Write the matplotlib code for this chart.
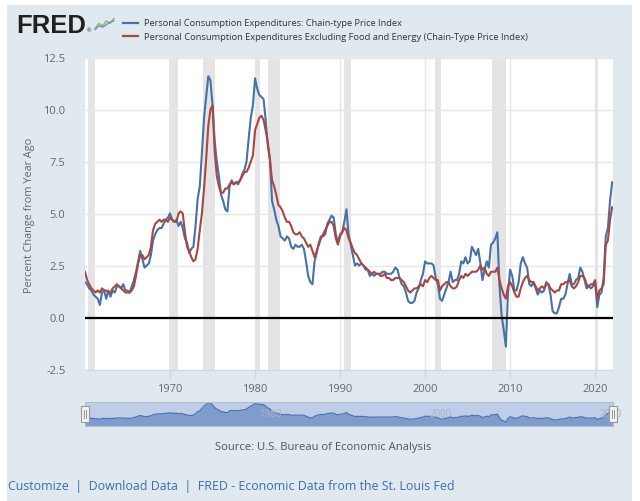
import numpy as np
import matplotlib
matplotlib.use("Agg")
import matplotlib.pyplot as plt
import matplotlib.patches as mpatches

plt.rcParams["font.family"] = ["Open Sans", "DejaVu Sans"]

# quarterly values, 1960 Q1 .. 2022 Q1 (percent change from year ago)
pce = [
    1.7, 1.6, 1.4, 1.3,  1.1, 1.0, 0.9, 0.6,  1.2, 1.3, 0.9, 1.3,  1.0, 1.3, 1.2, 1.5,
    1.5, 1.4, 1.6, 1.3,  1.3, 1.2, 1.5, 1.8,  2.2, 2.7, 3.2, 2.8,  2.4, 2.5, 2.6, 3.0,
    3.7, 4.0, 4.2, 4.3,  4.3, 4.5, 4.7, 4.8,  5.0, 4.7, 4.6, 4.7,  4.4, 4.6, 4.3, 3.8,
    3.6, 3.1, 3.3, 3.4,  4.4, 5.7, 6.3, 7.9,  9.6, 10.6, 11.6, 11.4,  10.2, 8.5, 7.5, 6.8,
    5.9, 5.6, 5.2, 5.1,  6.3, 6.6, 6.4, 6.5,  6.4, 6.6, 6.9, 7.1,  7.5, 8.6, 9.6, 10.2,
    11.5, 11.0, 10.7, 10.6,  10.5, 9.5, 8.3, 7.6,  5.6, 5.2, 4.7, 4.4,  3.9, 3.8, 3.7, 3.9,
    3.8, 3.4, 3.3, 3.5,  3.4, 3.4, 3.5, 3.3,  2.7, 2.0, 1.7, 1.6,  2.7, 3.1, 3.6, 3.9,
    3.9, 4.0, 4.5, 4.7,  4.9, 4.8, 4.0, 3.6,  4.0, 4.1, 4.6, 5.2,  4.0, 3.5, 3.0, 2.5,
    2.6, 2.5, 2.6, 2.5,  2.3, 2.3, 2.0, 2.1,  2.0, 2.1, 2.1, 2.1,  2.2, 2.2, 2.1, 2.1,
    2.1, 2.2, 2.4, 2.3,  1.9, 1.6, 1.5, 1.2,  0.8, 0.7, 0.7, 0.8,  1.2, 1.4, 1.8, 2.1,
    2.7, 2.6, 2.6, 2.6,  2.5, 1.9, 1.6, 0.9,  0.8, 1.1, 1.4, 1.7,  2.2, 1.7, 1.8, 1.8,
    2.1, 2.7, 2.6, 2.9,  2.6, 2.7, 3.4, 3.2,  3.0, 3.3, 2.6, 1.8,  2.3, 2.7, 2.4, 3.5,
    3.6, 3.8, 4.1, 1.5,  0.1, -0.6, -1.4, 1.2,  2.3, 2.0, 1.3, 1.3,  1.7, 2.6, 2.9, 2.6,
    2.4, 1.6, 1.5, 1.7,  1.4, 1.1, 1.3, 1.2,  1.3, 1.7, 1.6, 1.1,  0.3, 0.2, 0.2, 0.5,
    0.9, 0.9, 1.1, 1.6,  2.1, 1.6, 1.6, 1.8,  1.9, 2.4, 2.2, 1.8,  1.4, 1.5, 1.4, 1.5,
    1.7, 0.5, 1.1, 1.2,  1.9, 3.9, 4.3, 5.6,  6.5,
]
core = [
    2.2, 1.8, 1.6, 1.4,  1.3, 1.2, 1.3, 1.2,  1.4, 1.3, 1.3, 1.2,  1.2, 1.4, 1.5, 1.6,
    1.5, 1.4, 1.3, 1.2,  1.2, 1.2, 1.3, 1.5,  2.0, 2.6, 3.0, 3.0,  2.8, 2.9, 3.0, 3.4,
    4.2, 4.5, 4.6, 4.7,  4.6, 4.7, 4.7, 4.6,  4.8, 4.7, 4.6, 4.6,  5.0, 5.1, 5.0, 4.1,
    3.4, 3.2, 2.9, 2.7,  2.8, 3.3, 4.2, 5.0,  6.2, 7.6, 9.2, 10.0,  10.2, 8.0, 6.8, 6.3,
    6.0, 6.0, 6.2, 6.2,  6.4, 6.5, 6.4, 6.5,  6.5, 6.6, 6.8, 7.0,  7.0, 7.2, 7.5, 7.8,
    9.0, 9.3, 9.6, 9.7,  9.5, 9.0, 8.4, 7.6,  6.6, 6.3, 5.9, 5.4,  5.3, 5.1, 4.8, 4.6,
    4.6, 4.4, 4.1, 4.0,  4.0, 4.1, 3.9, 3.8,  3.6, 3.4, 3.5, 3.2,  2.9, 3.2, 3.5, 3.8,
    4.0, 4.2, 4.4, 4.6,  4.6, 4.4, 3.8, 3.5,  3.9, 4.1, 4.3, 4.2,  3.8, 3.6, 3.3, 3.1,
    3.0, 2.8, 2.6, 2.5,  2.4, 2.3, 2.2, 2.1,  2.2, 2.1, 2.1, 2.0,  2.0, 2.1, 1.9, 1.9,
    1.8, 1.8, 1.9, 1.9,  1.9, 1.8, 1.7, 1.5,  1.3, 1.2, 1.3, 1.4,  1.4, 1.5, 1.6, 1.5,
    1.8, 1.7, 1.9, 2.0,  1.9, 1.8, 1.8, 1.3,  1.5, 1.6, 1.7, 1.7,  1.5, 1.4, 1.4, 1.5,
    1.8, 2.0, 1.9, 2.1,  2.0, 2.1, 2.2, 2.2,  2.2, 2.3, 2.5, 2.3,  2.4, 2.1, 2.0, 2.2,
    2.2, 2.2, 2.4, 1.8,  1.4, 1.1, 0.9, 1.5,  1.7, 1.5, 1.2, 1.0,  1.0, 1.4, 1.7, 1.9,
    2.0, 1.8, 1.7, 1.7,  1.5, 1.3, 1.4, 1.5,  1.4, 1.6, 1.6, 1.4,  1.3, 1.2, 1.3, 1.3,
    1.6, 1.6, 1.7, 1.7,  1.8, 1.5, 1.4, 1.5,  1.7, 2.0, 2.0, 1.9,  1.6, 1.5, 1.6, 1.6,
    1.8, 0.9, 1.3, 1.4,  1.6, 3.5, 3.7, 4.7,  5.3,
]
recessions = [
    (1960.33, 1961.17), (1969.92, 1970.92), (1973.83, 1975.25), (1980.0, 1980.58),
    (1981.5, 1982.92), (1990.5, 1991.25), (2001.17, 2001.92), (2007.92, 2009.5),
    (2020.08, 2020.33),
]
x_ticks = [1970, 1980, 1990, 2000, 2010, 2020]
y_ticks = [-2.5, 0.0, 2.5, 5.0, 7.5, 10.0, 12.5]
nav_labels = [1980, 2000, 2020]

legend_labels = [
    "Personal Consumption Expenditures: Chain-type Price Index",
    "Personal Consumption Expenditures Excluding Food and Energy (Chain-Type Price Index)",
]
BLUE = "#4572a7"
RED = "#aa4643"
PANEL = "#e1e9f0"
GRID = "#e6e6e6"
W, H = 640, 502

years = 1960 + np.arange(len(pce)) / 4.0

fig = plt.figure(figsize=(W / 100, H / 100), dpi=100, facecolor="white")
renderer = fig.canvas.get_renderer()


def fx(px):
    return px / W


def fy(py):
    return 1 - py / H


def fit_width(txt, target, vertical=False):
    ext = txt.get_window_extent(renderer)
    size = ext.height if vertical else ext.width
    txt.set_fontsize(txt.get_fontsize() * target / size)


fig.patches.append(mpatches.Rectangle((fx(7), 0), fx(625), 1 - 6 / H,
                                      transform=fig.transFigure, facecolor=PANEL,
                                      edgecolor="none", zorder=-10))

# main chart
ax = fig.add_axes([fx(85), fy(370.5), fx(528), (370.5 - 58.5) / H])
ax.set_facecolor("white")
for a, b in recessions:
    ax.axvspan(a, b, color="#e4e4e4", lw=0, zorder=0)
ax.plot(years, pce, color=BLUE, lw=1.5, zorder=3, solid_joinstyle="round")
ax.plot(years, core, color=RED, lw=1.5, zorder=4, solid_joinstyle="round")
ax.axhline(0, color="black", lw=1.6, zorder=5)
ax.set_xlim(1960.0, 2022.1)
ax.set_ylim(-2.5, 12.5)
ax.set_xticks(x_ticks)
ax.set_yticks(y_ticks)
ax.set_yticklabels([f"{v:.1f}" for v in y_ticks])
ax.grid(True, color=GRID, lw=1.0, zorder=1)
ax.set_axisbelow(True)
for side in ["top", "right", "left"]:
    ax.spines[side].set_visible(False)
ax.spines["bottom"].set_color("#ccd6eb")
ax.tick_params(axis="y", length=0, pad=14, labelsize=8, labelcolor="#666666")
ax.tick_params(axis="x", length=6, width=1, color="#ccd6eb", pad=4,
               labelsize=8, labelcolor="#666666")

ylab = fig.text(fx(30), fy(215), "Percent Change from Year Ago", rotation=90,
                ha="center", va="center", color="#666666", fontsize=8)
fit_width(ylab, 156, vertical=True)

# header: logo and legend
logo = fig.text(fx(16), fy(26), "FRED", fontsize=16, fontweight="bold",
                family=["Liberation Sans", "DejaVu Sans"], color="#231f20",
                ha="left", va="center")
fit_width(logo, 70)
fig.text(fx(87), fy(33), "®", fontsize=4, color="#231f20", ha="left", va="bottom")
icon = fig.add_axes([fx(94), fy(33), fx(21), 16 / H])
icon.set_facecolor("#eeeeee")
icon.plot([0, 1, 2, 3, 4, 5], [1, 3, 2, 4, 3, 5], color="#8db26b", lw=1)
icon.plot([0, 1, 2, 3, 4, 5], [0.5, 2, 1.5, 2.5, 3.5, 4], color="#6d8fc0", lw=1)
icon.set_xlim(-0.3, 5.3)
icon.set_ylim(-0.5, 6)
icon.axis("off")

for i, (label, color) in enumerate(zip(legend_labels, [BLUE, RED])):
    yy = 24 + 13 * i
    fig.lines.append(plt.Line2D([fx(123), fx(138)], [fy(yy), fy(yy)], color=color,
                                lw=1.6, transform=fig.transFigure))
    t = fig.text(fx(144), fy(yy), label, fontsize=7, color="#333333",
                 ha="left", va="center")
    fit_width(t, 263 if i == 0 else 389)

# navigator
nav = fig.add_axes([fx(85), fy(427), fx(528), 24 / H])
nav.set_facecolor("#bfcde6")
nav.fill_between(years, pce, -3.9, color="#7f9dcc", lw=0)
nav.plot(years, pce, color="#4d74b0", lw=0.9)
nav.set_xlim(1960.0, 2022.1)
nav.set_ylim(-3.9, 12.3)
nav.set_xticks([])
nav.set_yticks([])
for s in nav.spines.values():
    s.set_color("#b0bcd0")
    s.set_linewidth(0.8)
for yr in nav_labels:
    nav.text(yr + 0.5, 4.2, str(yr), fontsize=7, color="#a8b4c8", ha="left", va="center")
for hx in [85, 613]:
    fig.patches.append(mpatches.Rectangle((fx(hx - 4), fy(423)), fx(8), 16 / H,
                                          transform=fig.transFigure, facecolor="#f2f2f2",
                                          edgecolor="#999999", lw=0.8, zorder=10))
    for dx in [-1.2, 1.2]:
        fig.lines.append(plt.Line2D([fx(hx + dx), fx(hx + dx)], [fy(419), fy(411)],
                                    color="#888888", lw=0.6, transform=fig.transFigure,
                                    zorder=11))

src = fig.text(fx(323), fy(448), "Source: U.S. Bureau of Economic Analysis",
               fontsize=8, color="#555555", ha="center", va="center")
fit_width(src, 217)

foot = fig.text(fx(8), fy(487),
                "Customize  |  Download Data  |  FRED - Economic Data from the St. Louis Fed",
                fontsize=9, color="#3d6da8", ha="left", va="center")
fit_width(foot, 447)

fig.savefig("out.png", dpi=100)
